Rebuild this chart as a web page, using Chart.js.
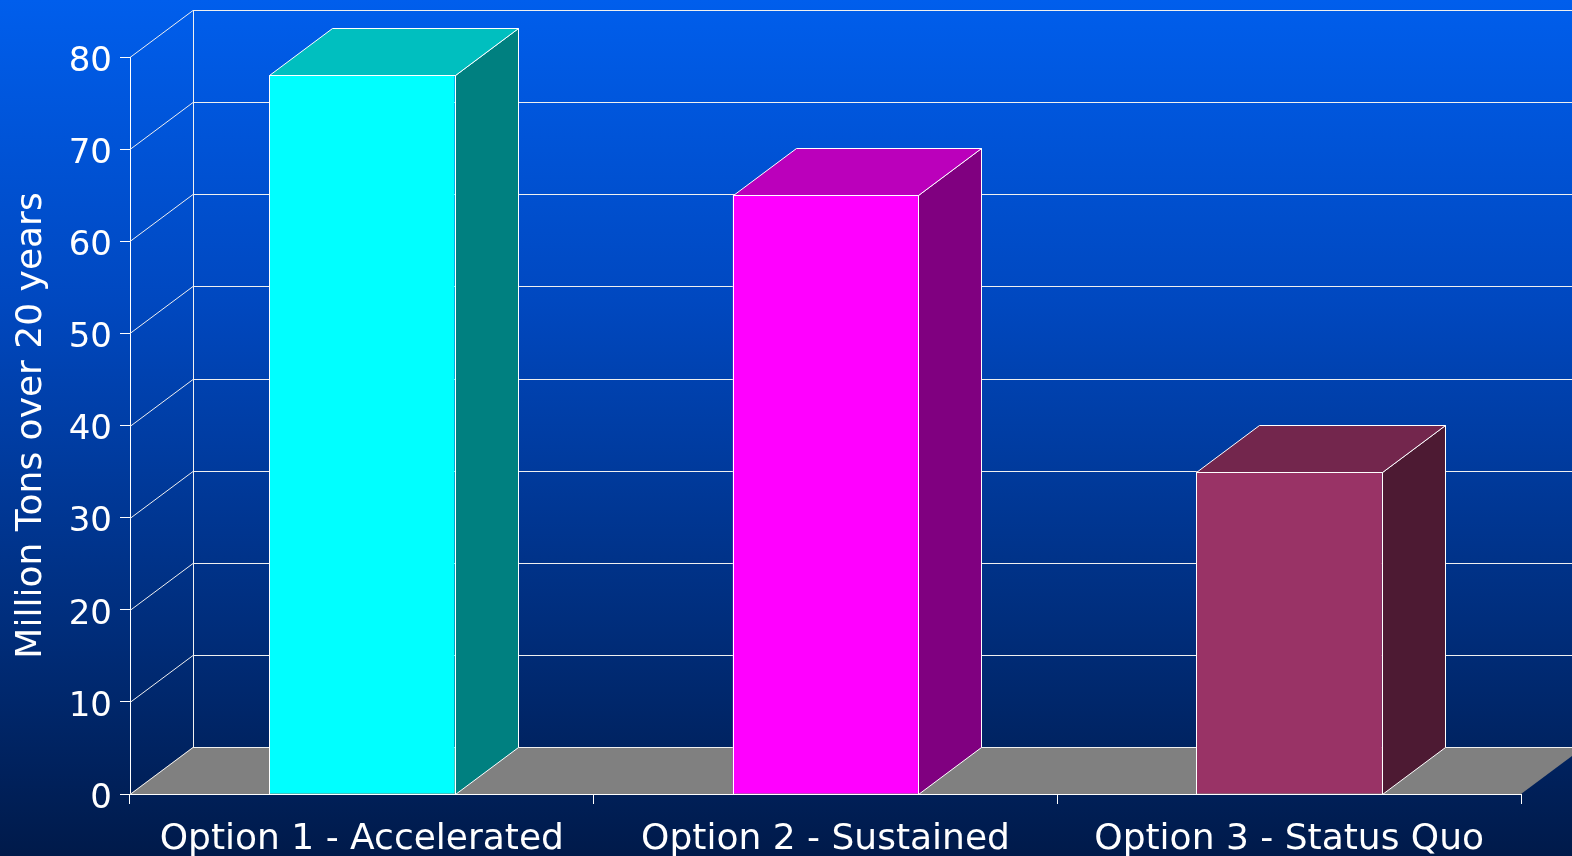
<!DOCTYPE html>
<html><head><meta charset="utf-8">
<script src="https://cdn.jsdelivr.net/npm/chart.js@4/dist/chart.umd.min.js"></script>
<style>
html,body{margin:0;padding:0;overflow:hidden}
body{width:1572px;height:856px;background:linear-gradient(to bottom,#005EEC 0%,#0048C0 35%,#002C78 75%,#001A4A 100%)}
#wrap{width:1572px;height:856px;position:relative}
</style></head><body><div id="wrap"><canvas id="c"></canvas></div>
<script>
const categories = ['Option 1 - Accelerated', 'Option 2 - Sustained', 'Option 3 - Status Quo'];
const values = [78, 65, 35];
const yTicks = [0, 10, 20, 30, 40, 50, 60, 70, 80];
const frontColors = ['#00FFFF', '#FF00FF', '#993366'];
const topColors = ['#00BFBF', '#BB00BB', '#73264D'];
const sideColors = ['#008080', '#800080', '#4D1A33'];
const yTitle = 'Million Tons over 20 years';

const DX = 63, DY = 47;

const plugin3d = {
  id: 'threeD',
  beforeDatasetsDraw(chart) {
    const { ctx, chartArea: a, scales: { y } } = chart;
    ctx.save();
    ctx.fillStyle = '#808080';
    ctx.beginPath();
    ctx.moveTo(a.left, a.bottom);
    ctx.lineTo(a.right, a.bottom);
    ctx.lineTo(a.right + DX, a.bottom - DY);
    ctx.lineTo(a.left + DX, a.bottom - DY);
    ctx.closePath();
    ctx.fill();
    ctx.strokeStyle = '#F0F0F0';
    ctx.lineWidth = 1;
    yTicks.forEach(v => {
      const py = Math.round(y.getPixelForValue(v)) + 0.5;
      ctx.beginPath();
      ctx.moveTo(a.left, py);
      ctx.lineTo(a.left + DX, py - DY);
      ctx.lineTo(a.right + DX + 10, py - DY);
      ctx.stroke();
    });
    const top = Math.round(y.getPixelForValue(yTicks[yTicks.length - 1])) + 0.5;
    const bot = Math.round(y.getPixelForValue(0)) + 0.5;
    ctx.beginPath();
    ctx.moveTo(a.left + DX + 0.5, top - DY);
    ctx.lineTo(a.left + DX + 0.5, bot - DY);
    ctx.stroke();
    ctx.restore();
  },
  afterDatasetsDraw(chart) {
    const { ctx } = chart;
    const meta = chart.getDatasetMeta(0);
    ctx.save();
    ctx.strokeStyle = '#FFFFFF';
    ctx.lineWidth = 1;
    ctx.lineJoin = 'round';
    meta.data.forEach((bar, i) => {
      const p = bar.getProps(['x', 'y', 'base', 'width'], true);
      const l = Math.round(p.x - p.width / 2) + 0.5;
      const r = Math.round(p.x + p.width / 2) + 0.5;
      const t = Math.round(p.y) + 0.5;
      const b = Math.round(p.base) + 0.5;
      ctx.fillStyle = sideColors[i];
      ctx.beginPath();
      ctx.moveTo(r, t); ctx.lineTo(r + DX, t - DY); ctx.lineTo(r + DX, b - DY); ctx.lineTo(r, b);
      ctx.closePath(); ctx.fill(); ctx.stroke();
      ctx.fillStyle = topColors[i];
      ctx.beginPath();
      ctx.moveTo(l, t); ctx.lineTo(r, t); ctx.lineTo(r + DX, t - DY); ctx.lineTo(l + DX, t - DY);
      ctx.closePath(); ctx.fill(); ctx.stroke();
      ctx.strokeRect(l, t, r - l, b - t);
    });
    ctx.restore();
  }
};

new Chart(document.getElementById('c'), {
  type: 'bar',
  data: {
    labels: categories,
    datasets: [{
      data: values,
      backgroundColor: frontColors,
      borderColor: '#FFFFFF',
      borderWidth: 0,
      barPercentage: 1,
      categoryPercentage: 0.4
    }]
  },
  options: {
    responsive: true,
    maintainAspectRatio: false,
    animation: false,
    events: [],
    layout: { padding: { top: 57, right: 51, left: 0, bottom: 0 } },
    plugins: { legend: { display: false }, tooltip: { enabled: false } },
    scales: {
      x: {
        grid: { display: true, drawOnChartArea: false, drawTicks: true, tickLength: 10, color: '#FFFFFF', offset: true },
        border: { display: true, color: '#FFFFFF', width: 1 },
        ticks: { color: '#FFFFFF', font: { family: 'DejaVu Sans', size: 36 }, maxRotation: 0, autoSkip: false, padding: 14 },
        afterFit(s) { s.height = 62; }
      },
      y: {
        min: 0, max: 80,
        afterBuildTicks(s) { s.ticks = yTicks.map(v => ({ value: v })); },
        grid: { display: true, drawOnChartArea: false, drawTicks: true, tickLength: 10, color: '#FFFFFF' },
        border: { display: true, color: '#FFFFFF', width: 1 },
        ticks: { color: '#FFFFFF', font: { family: 'DejaVu Sans', size: 34 }, padding: 8, labelOffset: 5 },
        title: { display: true, text: yTitle, color: '#FFFFFF', font: { family: 'DejaVu Sans', size: 36 }, padding: { top: 10, bottom: 0 } },
        afterFit(s) { s.width = 130; }
      }
    }
  },
  plugins: [plugin3d]
});
</script>
</body></html>
